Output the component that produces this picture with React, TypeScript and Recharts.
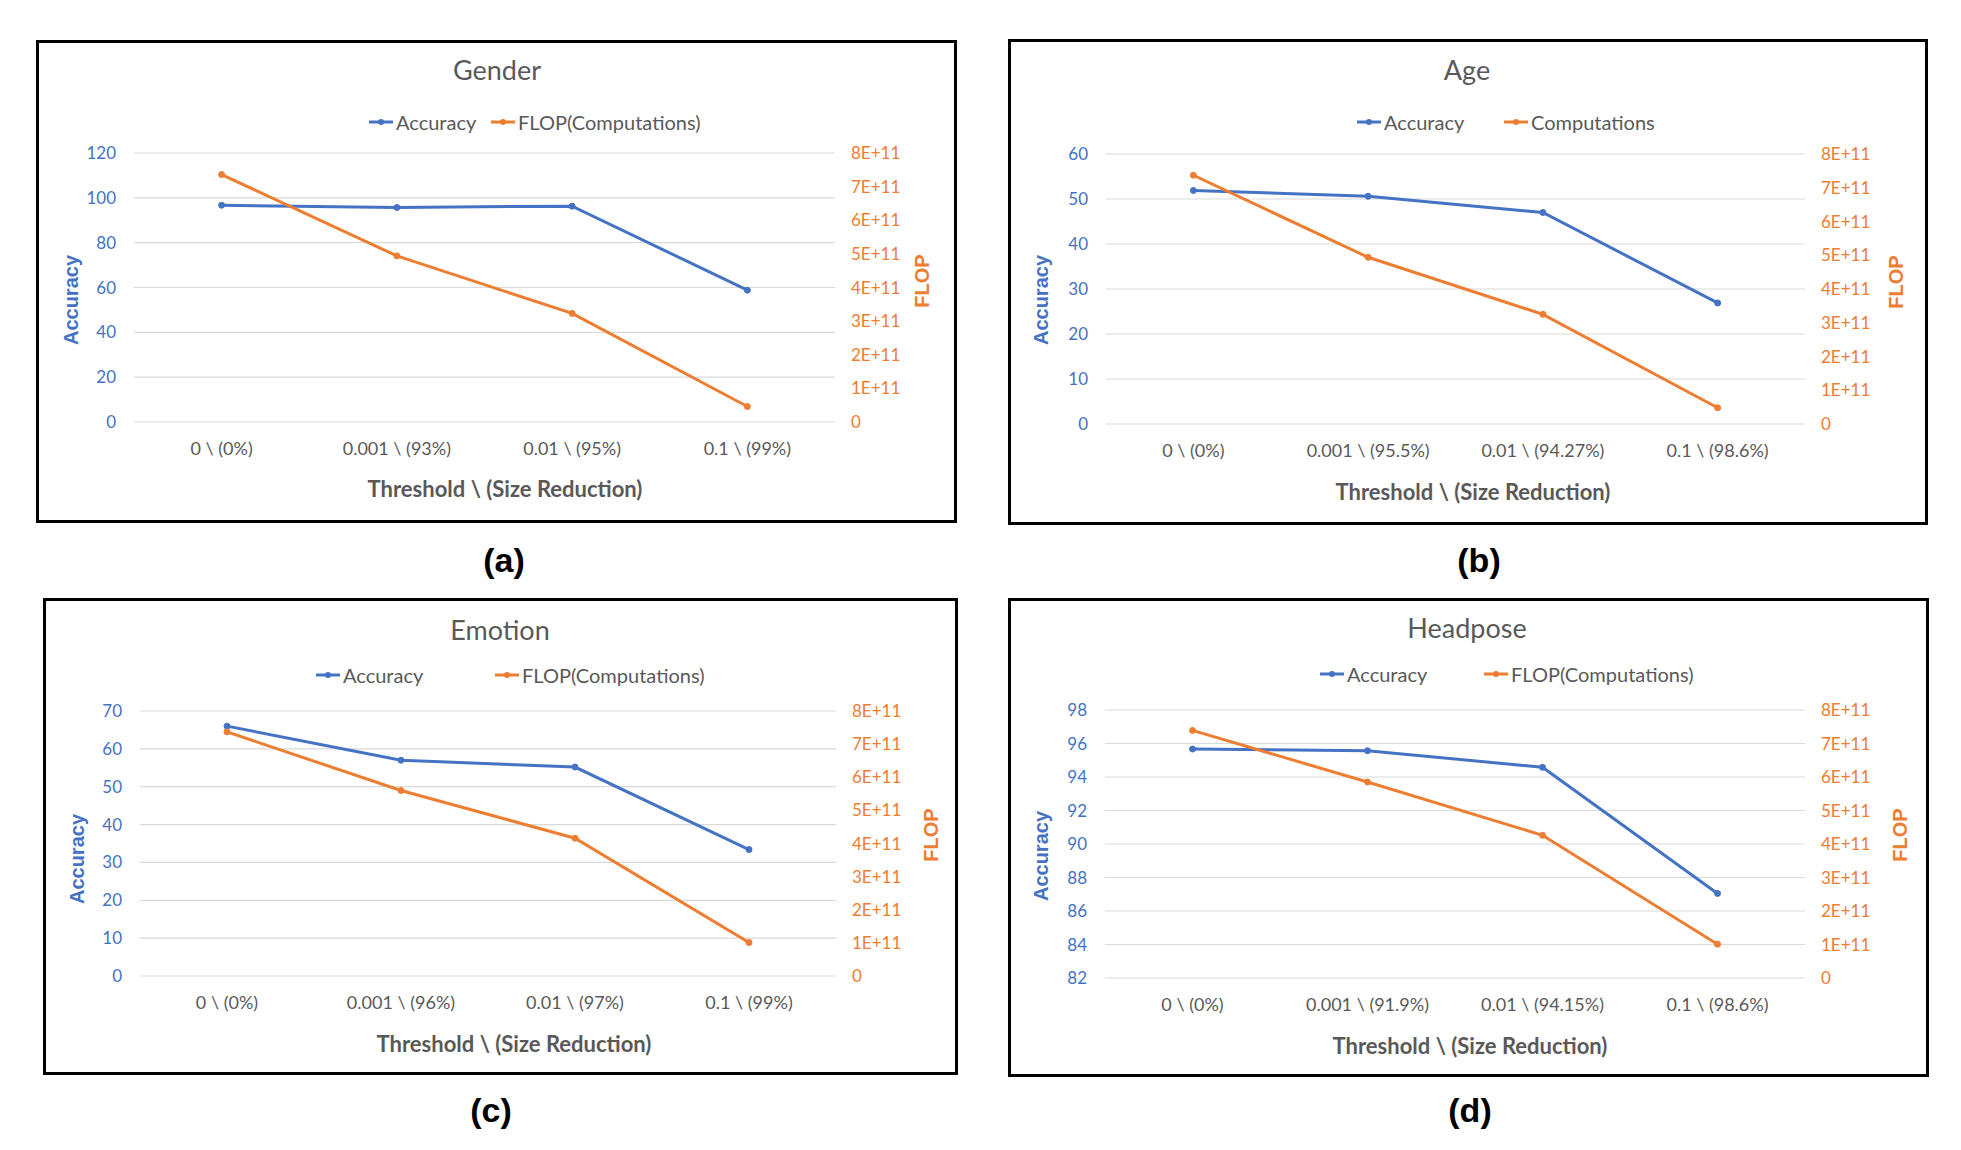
import React from "react";
import { LineChart, Line, XAxis, YAxis, CartesianGrid } from "recharts";

const BLUE = "#4472C4";
const ORANGE = "#ED7D31";
const GRAY = "#595959";
const FONT = "Lato, 'Open Sans', sans-serif";

// shared x categories
const thresholds = ["0", "0.001", "0.01", "0.1"];

// size reduction per task
const genderReduction = ["0%", "93%", "95%", "99%"];
const ageReduction = ["0%", "95.5%", "94.27%", "98.6%"];
const emotionReduction = ["0%", "96%", "97%", "99%"];
const headposeReduction = ["0%", "91.9%", "94.15%", "98.6%"];

// accuracy values
const genderAccuracy = [96.7, 95.7, 96.3, 58.8];
const ageAccuracy = [51.9, 50.6, 47.0, 26.9];
const emotionAccuracy = [66.0, 57.0, 55.2, 33.4];
const headposeAccuracy = [95.67, 95.57, 94.58, 87.05];

// FLOP values
const genderFlop = [7.36e11, 4.94e11, 3.23e11, 0.46e11];
const ageFlop = [7.37e11, 4.94e11, 3.25e11, 0.48e11];
const emotionFlop = [7.37e11, 5.6e11, 4.16e11, 1.01e11];
const headposeFlop = [7.39e11, 5.85e11, 4.26e11, 1.01e11];

// axis ticks
const genderAccTicks = [0, 20, 40, 60, 80, 100, 120];
const ageAccTicks = [0, 10, 20, 30, 40, 50, 60];
const emotionAccTicks = [0, 10, 20, 30, 40, 50, 60, 70];
const headposeAccTicks = [82, 84, 86, 88, 90, 92, 94, 96, 98];
const flopTicks = [0, 1e11, 2e11, 3e11, 4e11, 5e11, 6e11, 7e11, 8e11];

const flopFormat = (v: number) => (v === 0 ? "0" : `${Math.round(v / 1e11)}E+11`);

function buildRows(reduction: string[], acc: number[], flop: number[]) {
  return thresholds.map((t, i) => ({
    name: `${t} \\ (${reduction[i]})`,
    acc: acc[i],
    flop: flop[i],
  }));
}

type PanelCfg = {
  title: string;
  flopName: string;
  rows: { name: string; acc: number; flop: number }[];
  accTicks: number[];
  box: { x: number; y: number; w: number; h: number };
  plot: { l: number; r: number; t: number; b: number };
  titleX: number;
  titleY: number;
  legendY: number;
  legendX: number[];
  xTitleX: number;
  xTitleY: number;
  accPos: number[];
  flopPos: number[];
};

const panels: PanelCfg[] = [
  {
    title: "Gender",
    flopName: "FLOP(Computations)",
    rows: buildRows(genderReduction, genderAccuracy, genderFlop),
    accTicks: genderAccTicks,
    box: { x: 36, y: 40, w: 921, h: 483 },
    plot: { l: 95, r: 796, t: 110, b: 379 },
    titleX: 458,
    titleY: 26,
    legendY: 79,
    legendX: [330, 452],
    xTitleX: 466,
    xTitleY: 446,
    accPos: [32, 257],
    flopPos: [883, 238],
  },
  {
    title: "Age",
    flopName: "Computations",
    rows: buildRows(ageReduction, ageAccuracy, ageFlop),
    accTicks: ageAccTicks,
    box: { x: 1008, y: 39, w: 920, h: 486 },
    plot: { l: 95, r: 794, t: 112, b: 382 },
    titleX: 456,
    titleY: 27,
    legendY: 80,
    legendX: [346, 493],
    xTitleX: 462,
    xTitleY: 450,
    accPos: [30, 258],
    flopPos: [885, 240],
  },
  {
    title: "Emotion",
    flopName: "FLOP(Computations)",
    rows: buildRows(emotionReduction, emotionAccuracy, emotionFlop),
    accTicks: emotionAccTicks,
    box: { x: 43, y: 598, w: 915, h: 477 },
    plot: { l: 94, r: 790, t: 110, b: 375 },
    titleX: 454,
    titleY: 28,
    legendY: 74,
    legendX: [270, 449],
    xTitleX: 468,
    xTitleY: 443,
    accPos: [31, 258],
    flopPos: [885, 234],
  },
  {
    title: "Headpose",
    flopName: "FLOP(Computations)",
    rows: buildRows(headposeReduction, headposeAccuracy, headposeFlop),
    accTicks: headposeAccTicks,
    box: { x: 1008, y: 598, w: 921, h: 479 },
    plot: { l: 94, r: 794, t: 109, b: 377 },
    titleX: 456,
    titleY: 26,
    legendY: 73,
    legendX: [309, 473],
    xTitleX: 459,
    xTitleY: 445,
    accPos: [30, 255],
    flopPos: [889, 234],
  },
];

const captions = [
  { text: "(a)", x: 504, y: 560 },
  { text: "(b)", x: 1479, y: 560 },
  { text: "(c)", x: 491, y: 1110 },
  { text: "(d)", x: 1470, y: 1110 },
];

const AXIS_W = 60;
const XAXIS_H = 40;

function Centered({ x, y, style, children, rotate }: any) {
  return (
    <div
      style={{
        position: "absolute",
        left: x,
        top: y,
        whiteSpace: "nowrap",
        transform: `translate(-50%, -50%)${rotate ? " rotate(-90deg)" : ""}`,
        lineHeight: 1,
        ...style,
      }}
    >
      {children}
    </div>
  );
}

function LegendItem({ x, y, color, label }: any) {
  return (
    <div
      style={{
        position: "absolute",
        left: x,
        top: y,
        transform: "translateY(-50%)",
        display: "flex",
        alignItems: "center",
        whiteSpace: "nowrap",
        fontFamily: FONT,
        fontSize: 20,
        color: GRAY,
        lineHeight: 1,
      }}
    >
      <svg width={24} height={10} style={{ marginRight: 3 }}>
        <line x1={0} y1={5} x2={24} y2={5} stroke={color} strokeWidth={3} />
        <circle cx={12} cy={5} r={3} fill={color} />
      </svg>
      {label}
    </div>
  );
}

function Panel({ cfg }: { cfg: PanelCfg }) {
  const innerW = cfg.box.w - 6;
  const innerH = cfg.box.h - 6;
  const plotW = cfg.plot.r - cfg.plot.l;
  const pad = plotW / 8;
  const accDomain = [cfg.accTicks[0], cfg.accTicks[cfg.accTicks.length - 1]];

  return (
    <div
      style={{
        position: "absolute",
        left: cfg.box.x,
        top: cfg.box.y,
        width: innerW,
        height: innerH,
        border: "3px solid #000",
        background: "#fff",
      }}
    >
      <div style={{ position: "absolute", left: 0, top: 0 }}>
        <LineChart
          width={innerW}
          height={innerH}
          data={cfg.rows}
          margin={{
            top: cfg.plot.t,
            left: cfg.plot.l - AXIS_W,
            right: innerW - cfg.plot.r - AXIS_W,
            bottom: innerH - cfg.plot.b - XAXIS_H,
          }}
        >
          <CartesianGrid vertical={false} stroke="#D9D9D9" strokeWidth={1.2} yAxisId="left" />
          <XAxis
            dataKey="name"
            height={XAXIS_H}
            axisLine={false}
            tickLine={false}
            tickSize={6}
            tickMargin={14}
            interval={0}
            padding={{ left: pad, right: pad }}
            tick={{ fill: GRAY, fontSize: 18, fontFamily: FONT }}
          />
          <YAxis
            yAxisId="left"
            width={AXIS_W}
            domain={accDomain}
            ticks={cfg.accTicks}
            interval={0}
            axisLine={false}
            tickLine={false}
            tickSize={6}
            tickMargin={12}
            tick={{ fill: BLUE, fontSize: 17, fontFamily: FONT }}
          />
          <YAxis
            yAxisId="right"
            orientation="right"
            width={AXIS_W}
            domain={[0, 8e11]}
            ticks={flopTicks}
            interval={0}
            axisLine={false}
            tickLine={false}
            tickSize={6}
            tickMargin={10}
            tickFormatter={flopFormat}
            tick={{ fill: ORANGE, fontSize: 17, fontFamily: FONT, textAnchor: "start" }}
          />
          <Line
            yAxisId="left"
            type="linear"
            dataKey="acc"
            name="Accuracy"
            stroke={BLUE}
            strokeWidth={3}
            dot={{ r: 3, fill: BLUE, stroke: BLUE, strokeWidth: 1 }}
            isAnimationActive={false}
          />
          <Line
            yAxisId="right"
            type="linear"
            dataKey="flop"
            name={cfg.flopName}
            stroke={ORANGE}
            strokeWidth={3}
            dot={{ r: 3, fill: ORANGE, stroke: ORANGE, strokeWidth: 1 }}
            isAnimationActive={false}
          />
        </LineChart>
      </div>

      <Centered x={cfg.titleX} y={cfg.titleY} style={{ fontFamily: FONT, fontSize: 27, color: GRAY }}>
        {cfg.title}
      </Centered>
      <LegendItem x={cfg.legendX[0]} y={cfg.legendY} color={BLUE} label="Accuracy" />
      <LegendItem x={cfg.legendX[1]} y={cfg.legendY} color={ORANGE} label={cfg.flopName} />
      <Centered
        x={cfg.xTitleX}
        y={cfg.xTitleY}
        style={{ fontFamily: FONT, fontSize: 22, fontWeight: 700, color: GRAY }}
      >
        Threshold \ (Size Reduction)
      </Centered>
      <Centered
        x={cfg.accPos[0]}
        y={cfg.accPos[1]}
        rotate
        style={{ fontFamily: "'Liberation Sans', Arial, sans-serif", fontSize: 20, fontWeight: 700, color: BLUE }}
      >
        Accuracy
      </Centered>
      <Centered
        x={cfg.flopPos[0]}
        y={cfg.flopPos[1]}
        rotate
        style={{ fontFamily: "'Liberation Sans', Arial, sans-serif", fontSize: 20, fontWeight: 700, color: ORANGE }}
      >
        FLOP
      </Centered>
    </div>
  );
}

export default function App() {
  return (
    <div style={{ position: "absolute", left: 0, top: 0, width: 1961, height: 1150, background: "#fff" }}>
      {panels.map((p) => (
        <Panel key={p.title} cfg={p} />
      ))}
      {captions.map((c) => (
        <Centered
          key={c.text}
          x={c.x}
          y={c.y}
          style={{ fontFamily: "'Liberation Sans', Arial, sans-serif", fontSize: 34, fontWeight: 700, color: "#000" }}
        >
          {c.text}
        </Centered>
      ))}
    </div>
  );
}
